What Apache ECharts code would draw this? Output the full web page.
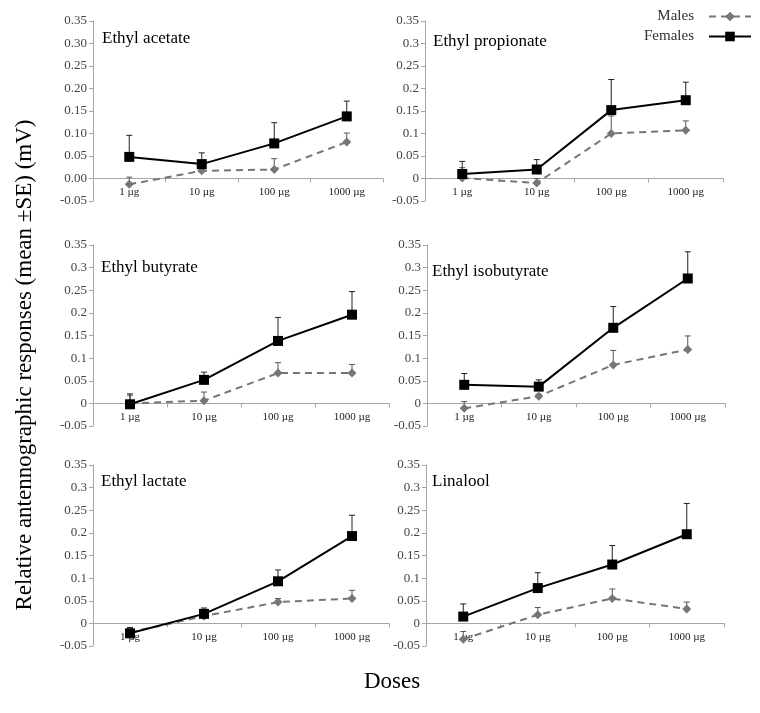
<!DOCTYPE html>
<html>
<head>
<meta charset="utf-8">
<script src="https://cdn.jsdelivr.net/npm/echarts@6/dist/echarts.min.js"></script>
<style>html,body{margin:0;padding:0;background:#fff}#c{width:760px;height:713px}</style>
</head>
<body>
<div id="c"></div>
<script>
const categories = ['1 µg', '10 µg', '100 µg', '1000 µg'];
const panelNames = ['Ethyl acetate', 'Ethyl propionate', 'Ethyl butyrate', 'Ethyl isobutyrate', 'Ethyl lactate', 'Linalool'];
const yTicks = [-0.05, 0, 0.05, 0.1, 0.15, 0.2, 0.25, 0.3, 0.35];

const acetateFemales = [0.048, 0.032, 0.078, 0.138];
const acetateFemalesSE = [0.048, 0.025, 0.046, 0.034];
const acetateMales = [-0.013, 0.017, 0.020, 0.081];
const acetateMalesSE = [0.016, 0.003, 0.024, 0.020];

const propionateFemales = [0.010, 0.020, 0.152, 0.174];
const propionateFemalesSE = [0.028, 0.022, 0.068, 0.040];
const propionateMales = [0.001, -0.010, 0.100, 0.107];
const propionateMalesSE = [0.023, 0.010, 0.039, 0.021];

const butyrateFemales = [-0.002, 0.052, 0.138, 0.196];
const butyrateFemalesSE = [0.023, 0.017, 0.052, 0.051];
const butyrateMales = [0.000, 0.006, 0.067, 0.067];
const butyrateMalesSE = [0.018, 0.019, 0.023, 0.019];

const isobutyrateFemales = [0.041, 0.037, 0.167, 0.276];
const isobutyrateFemalesSE = [0.025, 0.015, 0.047, 0.059];
const isobutyrateMales = [-0.011, 0.016, 0.085, 0.119];
const isobutyrateMalesSE = [0.015, 0.004, 0.032, 0.030];

const lactateFemales = [-0.022, 0.021, 0.093, 0.193];
const lactateFemalesSE = [0.013, 0.013, 0.025, 0.046];
const lactateMales = [-0.020, 0.016, 0.047, 0.055];
const lactateMalesSE = [0.008, 0.004, 0.008, 0.018];

const linaloolFemales = [0.015, 0.078, 0.130, 0.197];
const linaloolFemalesSE = [0.028, 0.034, 0.042, 0.068];
const linaloolMales = [-0.035, 0.019, 0.055, 0.032];
const linaloolMalesSE = [0.017, 0.016, 0.021, 0.015];

const femalesData = [acetateFemales, propionateFemales, butyrateFemales, isobutyrateFemales, lactateFemales, linaloolFemales];
const femalesSE = [acetateFemalesSE, propionateFemalesSE, butyrateFemalesSE, isobutyrateFemalesSE, lactateFemalesSE, linaloolFemalesSE];
const malesData = [acetateMales, propionateMales, butyrateMales, isobutyrateMales, lactateMales, linaloolMales];
const malesSE = [acetateMalesSE, propionateMalesSE, butyrateMalesSE, isobutyrateMalesSE, lactateMalesSE, linaloolMalesSE];

const SERIF = "'Liberation Serif', 'Times New Roman', serif";
const grids = [
  {left: 93, top: 21, width: 290, height: 180},
  {left: 425, top: 21, width: 298, height: 180},
  {left: 93, top: 245, width: 296, height: 181},
  {left: 427, top: 245, width: 298, height: 181},
  {left: 93, top: 465, width: 296, height: 181},
  {left: 426, top: 465, width: 298, height: 181}
];
const titlePos = [[102, 40], [433, 43], [101, 269], [432, 273], [101, 483], [432, 483]];

const FEMALE_COLOR = '#000000';
const MALE_COLOR = '#767676';

function errRender(color) {
  return function (params, api) {
    const x = api.value(0), v = api.value(1), top = api.value(2);
    const p0 = api.coord([x, v]);
    const p1 = api.coord([x, top]);
    const cap = 3;
    return {
      type: 'group',
      children: [
        {type: 'line', shape: {x1: p0[0], y1: p0[1], x2: p1[0], y2: p1[1]}, style: {stroke: color, lineWidth: 1}},
        {type: 'line', shape: {x1: p1[0] - cap, y1: p1[1], x2: p1[0] + cap, y2: p1[1]}, style: {stroke: color, lineWidth: 1}}
      ]
    };
  };
}

const yMin = -0.05, yMax = 0.35;

const option = {
  animation: false,
  backgroundColor: '#fff',
  grid: grids.map(g => Object.assign({outerBoundsMode: 'none', containLabel: false}, g)),
  title: panelNames.map((n, i) => ({
    text: n, left: titlePos[i][0], top: titlePos[i][1] - 10, padding: 0,
    textStyle: {fontFamily: SERIF, fontSize: 17, fontWeight: 'normal', color: '#000'}
  })),
  legend: {
    data: ['Males', 'Females'], orient: 'vertical', right: 8, top: 9, align: 'right',
    itemWidth: 42, itemHeight: 12, itemGap: 5, padding: 0,
    textStyle: {fontFamily: SERIF, fontSize: 15, color: '#333', padding: [0, 10, 0, 0]}
  },
  xAxis: grids.map((g, i) => ({
    type: 'category', gridIndex: i, data: categories, boundaryGap: true,
    position: 'bottom',
    offset: -g.height * (0 - yMin) / (yMax - yMin),
    axisLine: {onZero: false, lineStyle: {color: '#a6a6a6', width: 1}},
    axisTick: {show: true, length: 4, lineStyle: {color: '#a6a6a6'}},
    axisLabel: {interval: 0, margin: 8, fontFamily: SERIF, fontSize: 11, color: '#222'},
    splitLine: {show: false}
  })),
  yAxis: grids.map((g, i) => ({
    type: 'value', gridIndex: i, min: yMin, max: yMax, interval: 0.05,
    axisLine: {show: true, lineStyle: {color: '#a6a6a6', width: 1}},
    axisTick: {show: true, length: 4, lineStyle: {color: '#a6a6a6'}},
    axisLabel: {
      margin: 6, fontFamily: SERIF, fontSize: 13, color: '#444',
      formatter: i === 0 ? (v => v.toFixed(2)) : (v => String(+v.toFixed(2)))
    },
    splitLine: {show: false}
  })),
  series: [],
  graphic: [
    {type: 'text', x: 25, y: 365, rotation: Math.PI / 2,
      style: {text: 'Relative antennographic responses (mean ±SE) (mV)', font: '23px ' + SERIF, fill: '#000', align: 'center', verticalAlign: 'middle'}},
    {type: 'text', x: 392, y: 682,
      style: {text: 'Doses', font: '23px ' + SERIF, fill: '#000', align: 'center', verticalAlign: 'middle'}}
  ]
};

for (let i = 0; i < 6; i++) {
  option.series.push({
    type: 'custom', xAxisIndex: i, yAxisIndex: i, z: 1, silent: true,
    renderItem: errRender('#555'),
    data: malesData[i].map((v, k) => [k, v, v + malesSE[i][k]])
  });
  option.series.push({
    type: 'custom', xAxisIndex: i, yAxisIndex: i, z: 1, silent: true,
    renderItem: errRender('#222'),
    data: femalesData[i].map((v, k) => [k, v, v + femalesSE[i][k]])
  });
  option.series.push({
    name: 'Males', type: 'line', xAxisIndex: i, yAxisIndex: i, z: 3,
    data: malesData[i], symbol: 'diamond', symbolSize: 9,
    itemStyle: {color: MALE_COLOR},
    lineStyle: {color: MALE_COLOR, width: 2, type: [7, 5]}
  });
  option.series.push({
    name: 'Females', type: 'line', xAxisIndex: i, yAxisIndex: i, z: 4,
    data: femalesData[i], symbol: 'rect', symbolSize: 10,
    itemStyle: {color: FEMALE_COLOR},
    lineStyle: {color: FEMALE_COLOR, width: 2}
  });
}

const chart = echarts.init(document.getElementById('c'), null, {renderer: 'canvas'});
chart.setOption(option);
</script>
</body>
</html>
